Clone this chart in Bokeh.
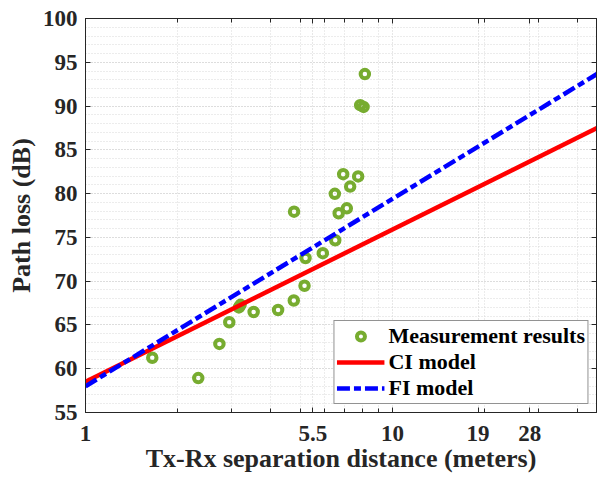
from bokeh.plotting import figure
from bokeh.models import (LogAxis, LinearAxis, FixedTicker, Range1d, Legend, LegendItem,
                          SingleIntervalTicker)
from bokeh.embed import file_html
from bokeh.resources import INLINE

# Data
meas_dist = [1.65, 2.33, 2.73, 2.94, 3.16, 3.20, 3.53, 4.24, 4.77, 5.17, 4.78, 5.21,
             5.93, 6.51, 6.68, 7.10, 6.49, 7.28, 6.91, 7.73, 8.13, 7.85, 8.05]
meas_pl = [61.25, 58.93, 62.83, 65.31, 67.0, 67.3, 66.48, 66.71, 67.79, 69.48, 77.94, 72.64,
           73.2, 74.67, 77.76, 78.32, 79.97, 80.8, 82.22, 81.96, 93.65, 90.1, 89.9]
model_dist = [1, 50]
ci_pl = [58.5, 88.06]
fi_pl = [58.0, 94.36]

x_major_ticks = [1, 5.5, 10, 19, 28]
x_tick_labels = {1: "1", 5.5: "5.5", 10: "10", 19: "19", 28: "28"}
x_minor_ticks = [2, 3, 4, 5, 6, 7, 8, 9, 20, 30, 40]

FONT = "Liberation Serif"
TXT = "#262626"

p = figure(width=597, height=475, x_axis_type="log", output_backend="svg",
           toolbar_location=None, x_range=Range1d(1, 46.2), y_range=Range1d(55, 100),
           min_border_left=85, min_border_top=18, min_border_bottom=58, min_border_right=1)
p.background_fill_color = "white"
p.border_fill_color = "white"
p.outline_line_color = TXT
p.outline_line_width = 1

xt = FixedTicker(ticks=x_major_ticks, minor_ticks=x_minor_ticks)
yt = SingleIntervalTicker(interval=5, num_minor_ticks=5)

xa = p.xaxis[0]
xa.ticker = xt
xa.major_label_overrides = x_tick_labels
ya = p.yaxis[0]
ya.ticker = yt

for ax in (xa, ya):
    ax.major_tick_in = 5
    ax.major_tick_out = 0
    ax.minor_tick_in = 4
    ax.minor_tick_out = 0
    ax.axis_line_color = TXT
    ax.major_tick_line_color = TXT
    ax.minor_tick_line_color = TXT
    ax.major_label_text_font = FONT
    ax.major_label_text_font_style = "bold"
    ax.major_label_text_font_size = "23px"
    ax.major_label_text_color = TXT
    ax.axis_label_text_font = FONT
    ax.axis_label_text_font_style = "bold"
    ax.axis_label_text_font_size = "26px"
    ax.axis_label_text_color = TXT
ya.minor_tick_in = 0
xa.axis_label = "Tx-Rx separation distance (meters)"
ya.axis_label = "Path loss (dB)"
xa.major_label_standoff = 13
ya.major_label_standoff = 8
xa.axis_label_standoff = 0
ya.axis_label_standoff = 4

top = LogAxis(ticker=xt, major_tick_in=5, major_tick_out=0, minor_tick_in=4, minor_tick_out=0,
              major_label_text_font_size="0px", axis_line_color=TXT,
              major_tick_line_color=TXT, minor_tick_line_color=TXT)
top.major_label_overrides = {t: "" for t in x_major_ticks}
p.add_layout(top, "above")
right = LinearAxis(ticker=yt, major_tick_in=5, major_tick_out=0, minor_tick_in=0, minor_tick_out=0,
                   major_label_text_font_size="0px", axis_line_color=TXT,
                   major_tick_line_color=TXT)
right.major_label_overrides = {t: "" for t in range(55, 101, 5)}
p.add_layout(right, "right")

for g, tk in ((p.xgrid[0], xt), (p.ygrid[0], yt)):
    g.ticker = tk
    g.grid_line_color = "#cfcfcf"
    g.grid_line_dash = "1 2"
    g.grid_line_width = 1
    g.minor_grid_line_color = "#d9d9d9"
    g.minor_grid_line_dash = "1 2"
    g.minor_grid_line_width = 1

r_meas = p.scatter(meas_dist, meas_pl, size=8.5, marker="circle", fill_color=None,
                   line_color="#77AC30", line_width=4)
r_ci = p.line(model_dist, ci_pl, line_color="#FF0000", line_width=4.5)
r_fi = p.line(model_dist, fi_pl, line_color="#0000FF", line_width=4.5, line_dash="13 4 7 4")

legend = Legend(items=[LegendItem(label="Measurement results", renderers=[r_meas]),
                       LegendItem(label="CI model", renderers=[r_ci]),
                       LegendItem(label="FI model", renderers=[r_fi])],
                location="bottom_right")
legend.label_text_font = FONT
legend.label_text_font_style = "bold"
legend.label_text_font_size = "22px"
legend.label_text_color = "#000000"
legend.border_line_color = TXT
legend.border_line_width = 1
legend.glyph_width = 48
legend.glyph_height = 20
legend.label_height = 20
legend.spacing = 0
legend.padding = 2
legend.margin = 8
legend.label_standoff = 4
legend.background_fill_alpha = 1
p.add_layout(legend)

open("out.html", "w").write(file_html(p, INLINE))
